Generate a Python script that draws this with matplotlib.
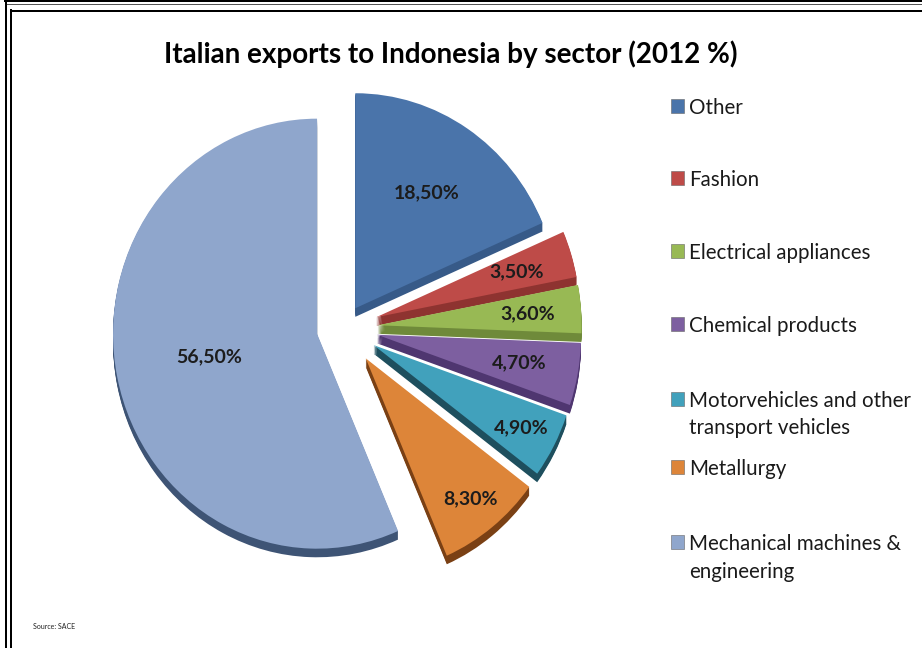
import matplotlib.pyplot as plt
from matplotlib.patches import Rectangle
import numpy as np

sectors = ['Other', 'Fashion', 'Electrical appliances', 'Chemical products',
           'Motorvehicles and other\ntransport vehicles', 'Metallurgy',
           'Mechanical machines &\nengineering']
shares = [18.5, 3.5, 3.6, 4.7, 4.9, 8.3, 56.5]

top_colors = ['#4A74AA', '#BE4B48', '#98B954', '#7D5FA0', '#41A1BC', '#DD8539', '#8FA6CC']
side_colors = ['#375A88', '#8E3330', '#6F8A3A', '#4F3670', '#1E4F5E', '#7A4014', '#3E5475']
explode = [0.11, 0.17, 0.17, 0.17, 0.17, 0.18, 0.13]
label_r = [0.64, 0.72, 0.74, 0.71, 0.82, 0.83, 0.54]

plt.rcParams['font.family'] = 'Lato'

W, H = 922, 648
fig = plt.figure(figsize=(W / 100, H / 100), dpi=100)
fig.patch.set_facecolor('white')

# pie centre and radii in pixels (slightly taller than wide)
cx, cy = 343, 328
rx, ry = 204, 215
span = 1.5
ax = fig.add_axes([(cx - span * rx) / W, (H - cy - span * ry) / H,
                   2 * span * rx / W, 2 * span * ry / H])

# extruded sides: stacked copies shifted downwards
depth = 0.04
for d in np.linspace(depth, 0.005, 8):
    ax.pie(shares, colors=side_colors, explode=explode, startangle=90,
           counterclock=False, center=(0, -d), wedgeprops=dict(linewidth=0))
wedges, _ = ax.pie(shares, colors=top_colors, explode=explode, startangle=90,
                   counterclock=False, wedgeprops=dict(linewidth=0))
ax.set_xlim(-span, span)
ax.set_ylim(-span, span)
ax.set_aspect('auto')
ax.axis('off')

for w, v, r in zip(wedges, shares, label_r):
    ang = np.deg2rad((w.theta1 + w.theta2) / 2)
    x = w.center[0] + r * np.cos(ang)
    y = w.center[1] + r * np.sin(ang)
    ax.text(x, y, '{:.2f}%'.format(v).replace('.', ','), ha='center', va='center',
            fontsize=14, fontweight='bold', color='#1c1c1c')

# overlay in pixel coordinates for frame, title and legend
ov = fig.add_axes([0, 0, 1, 1])
ov.set_xlim(0, W)
ov.set_ylim(H, 0)
ov.axis('off')
ov.patch.set_alpha(0)

px = 0.72
ov.plot([5, W], [1, 1], color='black', lw=2 * px)
ov.plot([5, W], [4, 4], color='#555555', lw=1 * px)
ov.plot([6, 6], [0, H], color='black', lw=2 * px)
ov.plot([11, W], [10.5, 10.5], color='black', lw=2 * px)
ov.plot([11, 11], [10, H], color='black', lw=2 * px)

ov.text(451, 63, 'Italian exports to Indonesia by sector (2012 %)', ha='center',
        va='baseline', fontsize=20, fontweight='bold', color='black')

baselines = [114, 186, 259, 332, 407, 475, 550]
for name, col, base in zip(sectors, top_colors, baselines):
    ov.add_patch(Rectangle((671, base - 15), 13, 14, facecolor=col,
                           edgecolor='#666666', lw=0.4))
    for k, line in enumerate(name.split('\n')):
        ov.text(689, base + 27.5 * k, line, ha='left', va='baseline',
                fontsize=14.8, color='#1a1a1a')

ov.text(33, 629, 'Source: SACE', ha='left', va='baseline', fontsize=5, color='#222222')

fig.savefig('out.png', dpi=100)
